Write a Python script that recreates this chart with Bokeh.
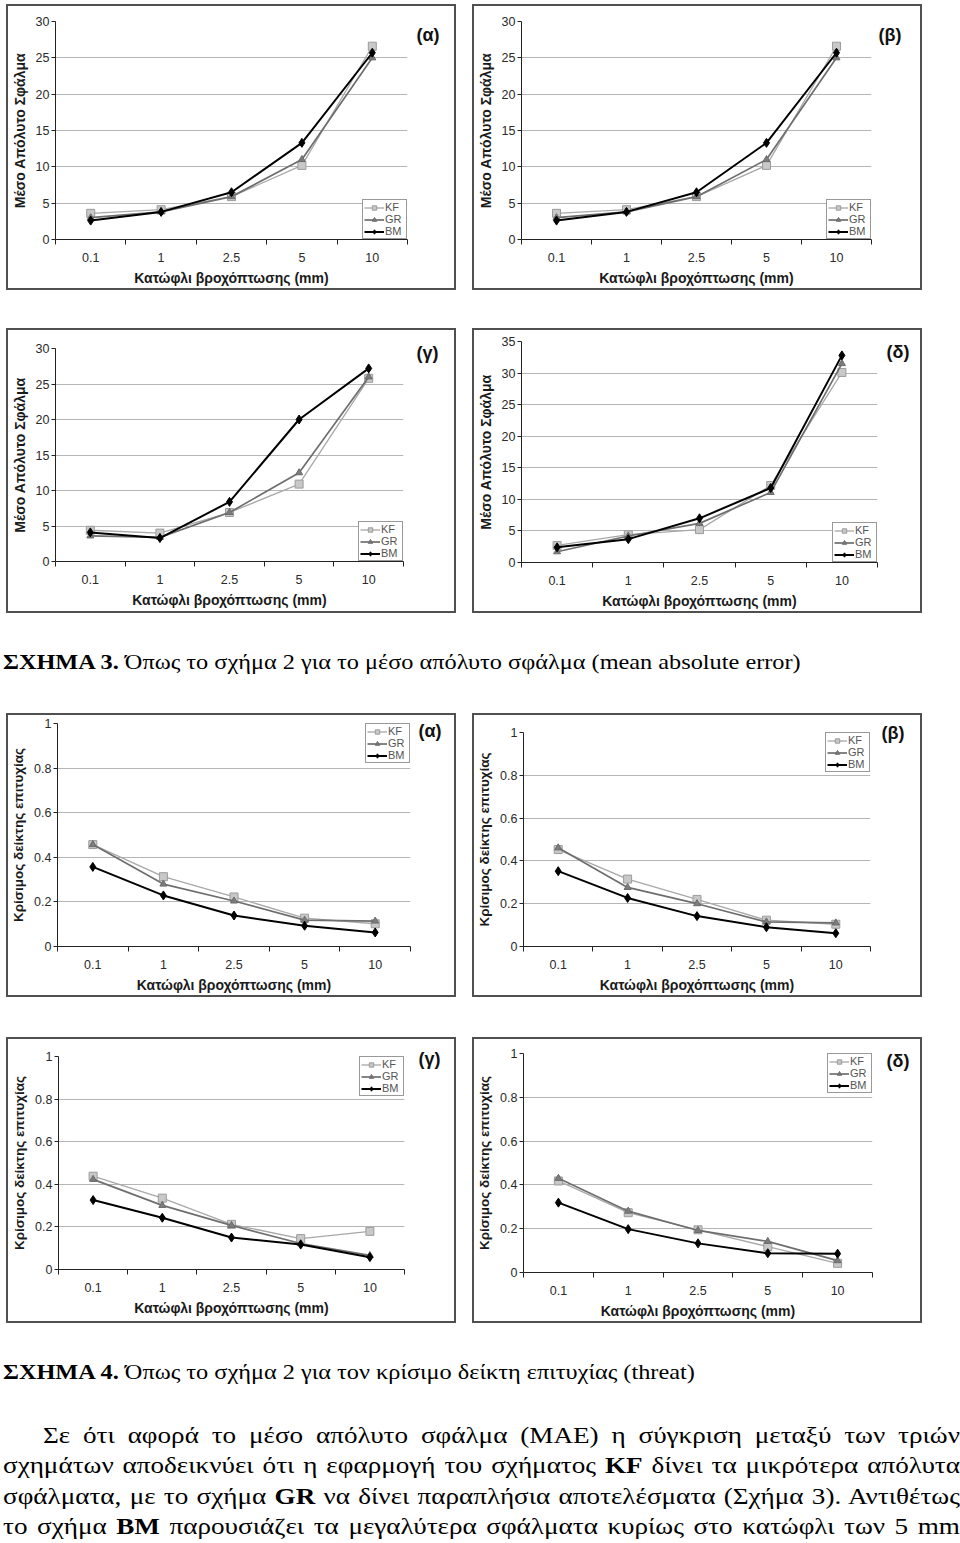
from bokeh.plotting import figure
from bokeh.models import Range1d, FixedTicker, Div, Spacer, LinearAxis
from bokeh.layouts import column, row
from bokeh.embed import file_html
from bokeh.resources import INLINE

# ---------------- data ----------------
thresholds = ["0.1", "1", "2.5", "5", "10"]
series_names = ["KF", "GR", "BM"]

# Figure 3: mean absolute error
mae_a_kf = [3.6, 4.1, 5.9, 10.2, 26.6]
mae_a_gr = [3.0, 3.8, 5.9, 11.0, 25.0]
mae_a_bm = [2.6, 3.8, 6.5, 13.3, 25.7]
mae_b_kf = [3.6, 4.1, 5.9, 10.2, 26.6]
mae_b_gr = [3.0, 3.8, 5.9, 11.0, 25.0]
mae_b_bm = [2.6, 3.8, 6.5, 13.3, 25.7]
mae_c_kf = [4.4, 4.0, 6.9, 10.9, 25.8]
mae_c_gr = [3.6, 3.4, 6.9, 12.5, 26.0]
mae_c_bm = [4.1, 3.3, 8.4, 20.0, 27.2]
mae_d_kf = [2.7, 4.4, 5.2, 12.2, 30.1]
mae_d_gr = [1.7, 4.2, 6.2, 11.1, 31.5]
mae_d_bm = [2.4, 3.7, 7.0, 11.8, 32.8]

# Figure 4: threat score
ts_a_kf = [0.457, 0.313, 0.222, 0.127, 0.102]
ts_a_gr = [0.457, 0.280, 0.204, 0.118, 0.114]
ts_a_bm = [0.357, 0.229, 0.139, 0.093, 0.063]
ts_b_kf = [0.453, 0.315, 0.220, 0.123, 0.104]
ts_b_gr = [0.461, 0.276, 0.200, 0.115, 0.110]
ts_b_bm = [0.352, 0.227, 0.142, 0.090, 0.062]
ts_c_kf = [0.438, 0.335, 0.212, 0.145, 0.179]
ts_c_gr = [0.423, 0.301, 0.207, 0.122, 0.066]
ts_c_bm = [0.326, 0.243, 0.150, 0.117, 0.058]
ts_d_kf = [0.418, 0.273, 0.195, 0.118, 0.042]
ts_d_gr = [0.430, 0.280, 0.192, 0.142, 0.054]
ts_d_bm = [0.319, 0.198, 0.133, 0.088, 0.086]

mae_ticks = [0, 5, 10, 15, 20, 25, 30]
mae_tick_labels = ["0", "5", "10", "15", "20", "25", "30"]
mae_d_ticks = [0, 5, 10, 15, 20, 25, 30, 35]
mae_d_tick_labels = ["0", "5", "10", "15", "20", "25", "30", "35"]
ts_ticks = [0, 0.2, 0.4, 0.6, 0.8, 1]
ts_tick_labels = ["0", "0.2", "0.4", "0.6", "0.8", "1"]

x_title = "Κατώφλι βροχόπτωσης (mm)"
mae_title = "Μέσο Απόλυτο Σφάλμα"
ts_title = "Κρίσιμος δείκτης επιτυχίας"

caption3_bold = "ΣΧΗΜΑ 3."
caption3_text = " Όπως το σχήμα 2 για το μέσο απόλυτο σφάλμα (mean absolute error)"
caption4_bold = "ΣΧΗΜΑ 4."
caption4_text = " Όπως το σχήμα 2 για τον κρίσιμο δείκτη επιτυχίας (threat)"
paragraph_lines = [
    "Σε ότι αφορά το μέσο απόλυτο σφάλμα (ΜΑΕ) η σύγκριση μεταξύ των τριών",
    "σχημάτων αποδεικνύει ότι η εφαρμογή του σχήματος <b>KF</b> δίνει τα μικρότερα απόλυτα",
    "σφάλματα, με το σχήμα <b>GR</b> να δίνει παραπλήσια αποτελέσματα (Σχήμα 3). Αντιθέτως",
    "το σχήμα <b>BM</b> παρουσιάζει τα μεγαλύτερα σφάλματα κυρίως στο κατώφλι των 5 mm",
]

SANS = "Liberation Sans"
SERIF = "Liberation Serif"
BW = 2                 # chart-area border width (px)
BORDER_COLOR = "#505050"


def bar(w, h):
    return Spacer(width=w, height=h, margin=0, styles={"background-color": BORDER_COLOR})


def make_chart(kf, gr, bm, tag, ylabel, ymax, yticks, ylabels, legend_loc,
               W, H, bl, br, bt, bb, tag_px, ylabel_size):
    # W, H, borders and tag position are given for the outer chart box
    w, h = W - 2 * BW, H - 2 * BW
    bl, br, bt, bb = bl - BW, br - BW, bt - BW, bb - BW
    tag_px = (tag_px[0] - BW, tag_px[1] - BW)

    p = figure(width=w, height=h, output_backend="svg", toolbar_location=None,
               x_range=Range1d(-0.5, 4.5), y_range=Range1d(0, ymax),
               min_border_left=bl, min_border_right=br,
               min_border_top=bt, min_border_bottom=bb,
               background_fill_color="white", border_fill_color="white",
               outline_line_color=None, margin=0)
    xs = list(range(len(thresholds)))

    # x axis (category style: labels at centres, ticks between)
    xa = p.xaxis[0]
    xa.ticker = FixedTicker(ticks=xs, minor_ticks=[i - 0.5 for i in range(len(xs) + 1)])
    xa.major_label_overrides = {i: t for i, t in enumerate(thresholds)}
    xa.major_tick_line_color = None
    xa.major_tick_out = 0
    xa.major_tick_in = 0
    xa.minor_tick_out = 5
    xa.minor_tick_in = 0
    xa.minor_tick_line_color = "#222222"
    xa.axis_line_color = "#222222"
    xa.major_label_standoff = 8
    xa.axis_label = x_title
    xa.axis_label_standoff = 5

    ya = p.yaxis[0]
    ya.ticker = FixedTicker(ticks=yticks)
    ya.major_label_overrides = {t: l for t, l in zip(yticks, ylabels)}
    ya.major_tick_out = 4
    ya.major_tick_in = 0
    ya.major_tick_line_color = "#222222"
    ya.minor_tick_line_color = None
    ya.axis_line_color = "#222222"
    ya.major_label_standoff = 2
    ya.axis_label = ylabel
    ya.axis_label_standoff = 5

    for ax in (xa, ya):
        ax.major_label_text_font = SANS
        ax.major_label_text_font_size = "12.5px"
        ax.major_label_text_color = "#2a2a2a"
        ax.axis_label_text_font = SANS
        ax.axis_label_text_font_style = "bold"
        ax.axis_label_text_color = "#1a1a1a"
    xa.axis_label_text_font_size = "14px"
    ya.axis_label_text_font_size = ylabel_size

    p.xgrid.visible = False
    p.ygrid.ticker = FixedTicker(ticks=yticks)
    p.ygrid.grid_line_color = "#b5b5b5"
    p.ygrid.grid_line_width = 1

    # series
    p.line(xs, kf, line_color="#a8a8a8", line_width=1.3, legend_label=series_names[0])
    p.scatter(xs, kf, marker="square", size=8, fill_color="#c8c8c8",
              line_color="#9c9c9c", line_width=1, legend_label=series_names[0])
    p.line(xs, gr, line_color="#6e6e6e", line_width=1.7, legend_label=series_names[1])
    p.scatter(xs, gr, marker="triangle", size=7, fill_color="#7c7c7c",
              line_color="#6a6a6a", line_width=1, legend_label=series_names[1])
    p.line(xs, bm, line_color="#000000", line_width=2, legend_label=series_names[2])
    p.scatter(xs, bm, marker="diamond", size=9, fill_color="#000000",
              line_color="#000000", legend_label=series_names[2])

    lg = p.legend[0]
    lg.location = legend_loc
    lg.margin = 0
    lg.padding = 1
    lg.spacing = 0
    lg.glyph_width = 20
    lg.glyph_height = 11
    lg.label_height = 11
    lg.label_standoff = 1
    lg.label_text_font = SANS
    lg.label_text_font_size = "11px"
    lg.label_text_color = "#555555"
    lg.border_line_color = "#333333"
    lg.border_line_width = 1
    lg.background_fill_color = "white"
    lg.background_fill_alpha = 1

    # panel tag such as (α), drawn as the single label of a right-hand axis
    fh = h - bt - bb
    ty = round(ymax * (1 - (tag_px[1] - bt) / fh), 4)
    standoff = int(round(tag_px[0] - 12 - (w - br)))
    tag_axis = LinearAxis(ticker=FixedTicker(ticks=[ty]),
                          major_label_overrides={ty: tag},
                          axis_line_color=None, major_tick_line_color=None,
                          minor_tick_line_color=None, major_tick_out=0, major_tick_in=0,
                          major_label_standoff=standoff,
                          major_label_text_font=SANS, major_label_text_font_size="18px",
                          major_label_text_font_style="bold",
                          major_label_text_color="#111111")
    p.add_layout(tag_axis, "right")

    # chart-area border built from thin layout bars
    box = column(bar(W, BW),
                 row(bar(BW, h), p, bar(BW, h), margin=0),
                 bar(W, BW), margin=0)
    return box


fa = make_chart(mae_a_kf, mae_a_gr, mae_a_bm, "(α)", mae_title, 30, mae_ticks, mae_tick_labels,
                "bottom_right", 450, 286, 47, 49, 17, 51, (422, 31), "14px")
fb = make_chart(mae_b_kf, mae_b_gr, mae_b_bm, "(β)", mae_title, 30, mae_ticks, mae_tick_labels,
                "bottom_right", 450, 286, 46, 51, 17, 51, (418, 31), "14px")
fc = make_chart(mae_c_kf, mae_c_gr, mae_c_bm, "(γ)", mae_title, 30, mae_ticks, mae_tick_labels,
                "bottom_right", 450, 285, 49, 53, 20, 52, (422, 24), "14px")
fd = make_chart(mae_d_kf, mae_d_gr, mae_d_bm, "(δ)", mae_title, 35, mae_d_ticks, mae_d_tick_labels,
                "bottom_right", 450, 285, 42, 45, 13, 46, (426, 24), "14px")

ga = make_chart(ts_a_kf, ts_a_gr, ts_a_bm, "(α)", ts_title, 1, ts_ticks, ts_tick_labels,
                "top_right", 450, 284, 50, 46, 10, 51, (424, 17), "13.5px")
gb = make_chart(ts_b_kf, ts_b_gr, ts_b_bm, "(β)", ts_title, 1, ts_ticks, ts_tick_labels,
                "top_right", 450, 284, 50, 52, 19, 51, (421, 19), "13.5px")
gc = make_chart(ts_c_kf, ts_c_gr, ts_c_bm, "(γ)", ts_title, 1, ts_ticks, ts_tick_labels,
                "top_right", 450, 286, 52, 52, 19, 54, (424, 21), "13.5px")
gd = make_chart(ts_d_kf, ts_d_gr, ts_d_bm, "(δ)", ts_title, 1, ts_ticks, ts_tick_labels,
                "top_right", 450, 286, 46, 50, 16, 49, (426, 24), "13.5px")

cap_style = (f"font-family:'{SERIF}',serif;font-size:21px;line-height:24px;"
             "color:#000;white-space:nowrap;display:inline-block;"
             "transform:scaleX(1.157);transform-origin:0 0;")
cap3 = Div(text=(f"<div style=\"padding-top:37px;padding-left:3px\">"
                 f"<span style=\"{cap_style}\"><b>{caption3_bold}</b>{caption3_text}</span></div>"),
           width=957, height=100, margin=0)

PSCALE = 1.18
pw = 957 / PSCALE
line_divs = []
for i, ln in enumerate(paragraph_lines):
    indent = f"padding-left:{40 / PSCALE:.1f}px;" if i == 0 else ""
    line_divs.append(f"<div style=\"text-align:justify;text-align-last:justify;"
                     f"white-space:nowrap;{indent}\">{ln}</div>")
para_html = (f"<div style=\"height:218px;overflow:hidden;width:960px\">"
             f"<div style=\"padding-top:37px;padding-left:3px\"><span style=\"{cap_style}\">"
             f"<b>{caption4_bold}</b>{caption4_text}</span></div>"
             f"<div style=\"font-family:'{SERIF}',serif;font-size:23px;line-height:30.3px;"
             f"color:#000;margin-top:37px;margin-left:3px;width:{pw:.1f}px;"
             f"transform:scaleX({PSCALE});transform-origin:0 0\">"
             + "".join(line_divs) + "</div></div>")
text4 = Div(text=para_html, width=960, height=218, margin=0)

r1 = row(Spacer(width=6, height=286), fa, Spacer(width=16, height=286), fb)
r2 = row(Spacer(width=6, height=285), fc, Spacer(width=16, height=285), fd)
r3 = row(Spacer(width=6, height=284), ga, Spacer(width=16, height=284), gb)
r4 = row(Spacer(width=6, height=286), gc, Spacer(width=16, height=286), gd)

root = column(Spacer(width=10, height=4), r1, Spacer(width=10, height=38), r2, cap3, r3,
              Spacer(width=10, height=40), r4, text4, margin=0)

open("out.html", "w").write(file_html(root, INLINE))
